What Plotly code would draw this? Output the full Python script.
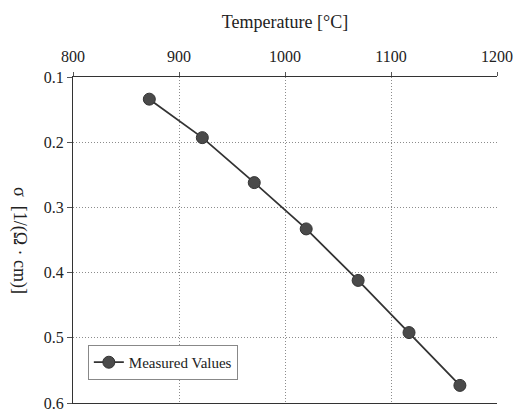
import plotly.graph_objects as go

temperature = [872, 922, 971, 1020, 1069, 1117, 1165]
sigma = [0.134, 0.193, 0.262, 0.333, 0.412, 0.492, 0.573]
x_ticks = [800, 900, 1000, 1100, 1200]
y_ticks = [0.1, 0.2, 0.3, 0.4, 0.5, 0.6]
series_name = "Measured Values"
x_title = "Temperature [°C]"
y_title = "σ  [1/(Ω · cm)]"

font_family = "Liberation Serif, Times New Roman, serif"

fig = go.Figure()
fig.add_trace(go.Scatter(
    x=temperature, y=sigma, mode="lines+markers", name=series_name,
    line=dict(color="#333333", width=1.8),
    marker=dict(color="#4a4a4a", size=12, line=dict(color="#333333", width=1)),
))

fig.update_layout(
    width=521, height=412,
    margin=dict(l=73, r=24, t=77, b=9),
    paper_bgcolor="white", plot_bgcolor="white",
    font=dict(family=font_family, size=16, color="#222222"),
    showlegend=True,
    legend=dict(x=0.035, y=0.178, xanchor="left", yanchor="top",
                bgcolor="white", bordercolor="#888888", borderwidth=1,
                font=dict(size=15, family=font_family)),
    xaxis=dict(
        side="top", range=[800, 1200], tickvals=x_ticks, automargin=False,
        showgrid=True, gridcolor="#8c8c8c", griddash="1px,2px", gridwidth=1,
        showline=True, linecolor="#333333", linewidth=1.2, mirror=True,
        ticks="outside", ticklen=4, tickcolor="#555555",
        tickfont=dict(size=16), ticklabelstandoff=4,
        title=dict(text=x_title, font=dict(size=18), standoff=14),
        zeroline=False,
    ),
    yaxis=dict(
        range=[0.6, 0.1], tickvals=y_ticks, tickformat=".1f", automargin=False,
        showgrid=True, gridcolor="#8c8c8c", griddash="1px,2px", gridwidth=1,
        showline=True, linecolor="#333333", linewidth=1.2,
        ticks="outside", ticklen=5, tickcolor="#555555",
        tickfont=dict(size=16),
        zeroline=False,
    ),
    annotations=[dict(
        text=y_title, textangle=90, xref="paper", yref="paper",
        x=-0.125, y=0.5, xanchor="center", yanchor="middle",
        showarrow=False, font=dict(size=18, family=font_family, color="#222222"),
    )],
)

fig.write_html(
    "out.html",
    config={"displayModeBar": False},
    post_script="document.body.style.margin='0';document.body.style.overflow='hidden';",
)
